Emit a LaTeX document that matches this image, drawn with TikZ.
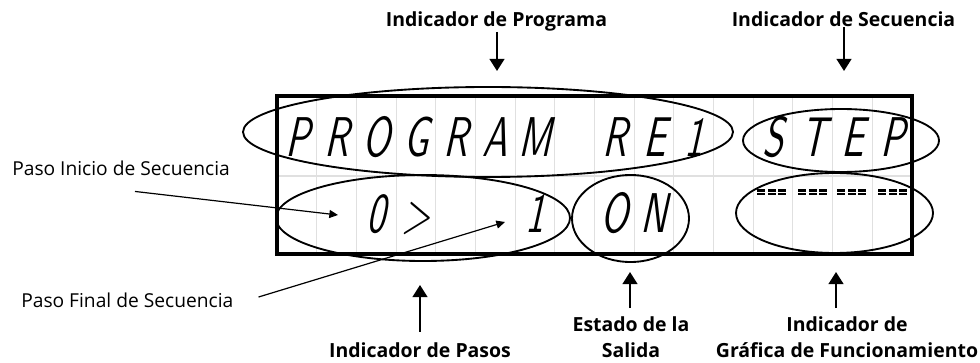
\documentclass[tikz,border=0pt]{standalone}
\usepackage{fontspec}
\setmainfont{Open Sans}
\newfontfamily\lcdfont[FakeSlant=0.22,FakeStretch=0.66]{lmsans10-regular.otf}
\usetikzlibrary{shapes.geometric,arrows.meta,calc}
\tikzset{
  lbl/.style={font=\fontsize{14.6}{19.5}\selectfont\bfseries, inner sep=0pt},
  note/.style={font=\fontsize{14.4}{16}\selectfont, inner sep=0pt},
  ell/.style={draw, ellipse, line width=1.4pt, inner sep=0pt},
  arr/.style={line width=1.5pt, -{Triangle[width=11pt,length=9pt]}},
  fine/.style={line width=0.9pt, -{Triangle[width=6pt,length=6.5pt]}},
  lcdch/.style={font=\lcdfont\fontsize{42}{42}\selectfont, inner sep=0pt, anchor=base},
  gridln/.style={draw=black!12, line width=0.8pt},
  lcdbox/.style={draw, line width=2.6pt, inner sep=0pt}
}
\begin{document}
\begin{tikzpicture}[x=0.75pt,y=-0.75pt]
\useasboundingbox (0,0) rectangle (980,363);
% grid of the display
\foreach \k in {1,...,15}
  \draw[gridln] ({277+39.6875*\k},96) -- ({277+39.6875*\k},254);
\draw[gridln] (277,176) -- (912,176);
% display frame
\node[lcdbox, minimum width=476.25pt, minimum height=118.5pt] (lcd) at (594.5,175) {};
% characters, row 1
\foreach \k/\c in {1/P,2/R,3/O,4/G,5/R,6/A,7/M,9/R,10/E,11/1,13/S,14/T,15/E,16/P}
  \node[lcdch] (a\k) at ({277+39.6875*(\k-0.5)},157) {\c};
% characters, row 2
\foreach \k/\c in {3/0,4/>,7/1,9/O,10/N}
  \node[lcdch] (b\k) at ({277+39.6875*(\k-0.5)},232) {\c};
% graph dashes
\foreach \gx in {757,798,837,878}
  \foreach \i in {0,1,2}
    \foreach \ry in {189.5,193}
      \fill ({\gx+\i*10.7},\ry) rectangle ++(8,2.2);
% ellipses
\node[ell, minimum width=367.5pt, minimum height=67.5pt] (eprog) at (488,132) {};
\node[ell, minimum width=147pt, minimum height=47.25pt] (estep) at (841,140.5) {};
\node[ell, minimum width=147.75pt, minimum height=60pt] (egraf) at (834.5,213) {};
\node[ell, minimum width=220.5pt, minimum height=64.5pt] (epasos) at (423,218) {};
\node[ell, minimum width=87.75pt, minimum height=65.25pt] (eon) at (630.5,218.5) {};
% labels
\node[lbl, anchor=base] (lprog) at (496.5,27) {Indicador de Programa};
\node[lbl, anchor=base] (lsec) at (843.5,27) {Indicador de Secuencia};
\node[lbl, anchor=base] (lpasos) at (420,357) {Indicador de Pasos};
\node[lbl, align=center, anchor=north] (lestado) at (631,316) {Estado de la\\Salida};
\node[lbl, align=center, anchor=north] (lgraf) at (847,316) {Indicador de\\Gráfica de Funcionamiento};
\node[note, anchor=base west] (linicio) at (12,176) {Paso Inicio de Secuencia};
\node[note, anchor=base west] (lfinal) at (21,307) {Paso Final de Secuencia};
% arrow tips
\coordinate (tprog) at (497,71);
\coordinate (tsec) at (844,71);
\coordinate (tpasos) at (420,285);
\coordinate (testado) at (630,272);
\coordinate (tgraf) at (836,272);
\coordinate (tinicio) at (338,215);
\coordinate (tfinal) at (505,222);
% arrows
\draw[arr] (lprog.south -| tprog) -- (tprog);
\draw[arr] (lsec.south -| tsec) -- (tsec);
\draw[arr] ([yshift=7.5pt]lpasos.north -| tpasos) -- (tpasos);
\draw[arr] ([yshift=6pt]lestado.north -| testado) -- (testado);
\draw[arr] ([yshift=6pt]lgraf.north -| tgraf) -- (tgraf);
\draw[fine] ($(linicio.south west)+(123,15)$) -- (tinicio);
\draw[fine] ($(lfinal.base east)+(25,-10)$) -- (tfinal);
\end{tikzpicture}
\end{document}
